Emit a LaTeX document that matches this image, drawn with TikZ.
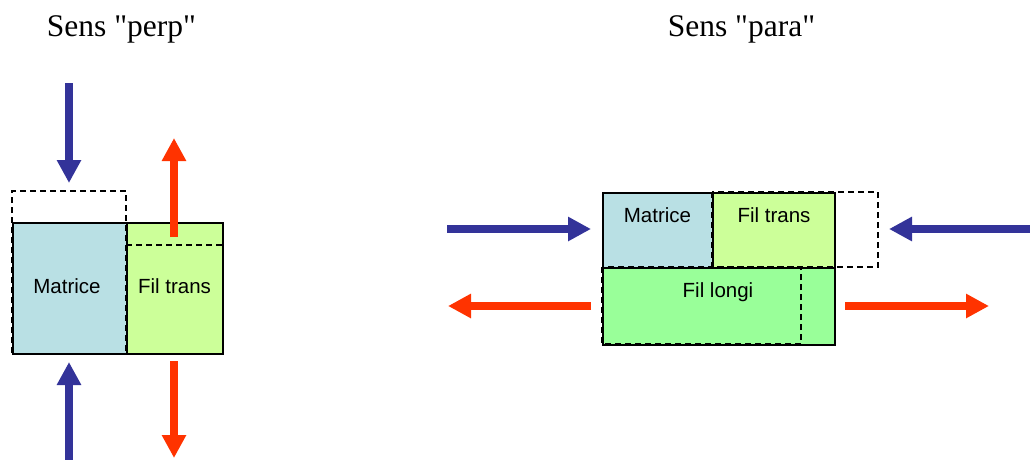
\documentclass[tikz,border=0pt]{standalone}
\usepackage{fontspec}
\setmainfont{Liberation Serif}[Ligatures=TeXOff]
\newfontfamily\labelfont{Liberation Sans}
\usetikzlibrary{arrows.meta}
\definecolor{matblue}{RGB}{185,224,228}
\definecolor{transgreen}{RGB}{204,255,153}
\definecolor{longigreen}{RGB}{153,255,153}
\definecolor{arrblue}{RGB}{51,51,153}
\definecolor{arrred}{RGB}{255,51,0}
\tikzset{
  box/.style={draw=black, line width=1.5pt, inner sep=0pt, anchor=north west},
  dashbox/.style={draw=black, line width=1.4pt, dash pattern=on 6pt off 4pt},
  force/.style={line width=8pt, -{Triangle[width=23pt,length=23pt]}},
  title/.style={font=\fontsize{31.5}{36}\selectfont, anchor=base, inner sep=0pt},
  lbl/.style={font=\labelfont\fontsize{20.5}{24}\selectfont, anchor=base, inner sep=0pt}
}
\begin{document}
\begin{tikzpicture}[x=1pt, y=-1pt]
\useasboundingbox (0,0) rectangle (1030,459);
% titles
\node[title] (t1) at (121.5,36) {Sens "perp"};
\node[title] (t2) at (741.5,36) {Sens "para"};
% ---- left figure ----
\node[box, fill=matblue, minimum width=114pt, minimum height=131pt] (matL) at (12,222) {};
\node[box, fill=transgreen, minimum width=96pt, minimum height=131pt] (trL) at (126,222) {};
\draw[dashbox] (12,353) -- (12,191) -- (126,191) -- (126,353);
\draw[dashbox] (126,245) -- (222,245);
\node[lbl] (lmatL) at (67,293) {Matrice};
\node[lbl] (ltrL) at (174.5,293) {Fil trans};
\coordinate (b1s) at (69,83);  \coordinate (b1e) at (69,183);
\coordinate (r1s) at (174,237); \coordinate (r1e) at (174,138);
\coordinate (b2s) at (69,460); \coordinate (b2e) at (69,362);
\coordinate (r2s) at (174,361); \coordinate (r2e) at (174,458);
\draw[force, arrblue] (b1s) -- (b1e);
\draw[force, arrred] (r1s) -- (r1e);
\draw[force, arrblue] (b2s) -- (b2e);
\draw[force, arrred] (r2s) -- (r2e);
% ---- right figure ----
\node[box, fill=matblue, minimum width=110pt, minimum height=75pt] (matR) at (602,192) {};
\node[box, fill=transgreen, minimum width=122pt, minimum height=75pt] (trR) at (712,192) {};
\node[box, fill=longigreen, minimum width=232pt, minimum height=77pt] (loR) at (602,267) {};
\draw[dashbox] (712,192) rectangle (878,267);
\draw[dashbox] (602,267) rectangle (801,344);
\node[lbl] (lmatR) at (657.5,222) {Matrice};
\node[lbl] (ltrR) at (774,222) {Fil trans};
\node[lbl] (lloR) at (718,297) {Fil longi};
\coordinate (b3s) at (447,229); \coordinate (b3e) at (591,229);
\coordinate (b4s) at (1031,229); \coordinate (b4e) at (889,229);
\coordinate (r3s) at (591,306); \coordinate (r3e) at (448,306);
\coordinate (r4s) at (845,306); \coordinate (r4e) at (989,306);
\draw[force, arrblue] (b3s) -- (b3e);
\draw[force, arrblue] (b4s) -- (b4e);
\draw[force, arrred] (r3s) -- (r3e);
\draw[force, arrred] (r4s) -- (r4e);
\end{tikzpicture}
\end{document}
